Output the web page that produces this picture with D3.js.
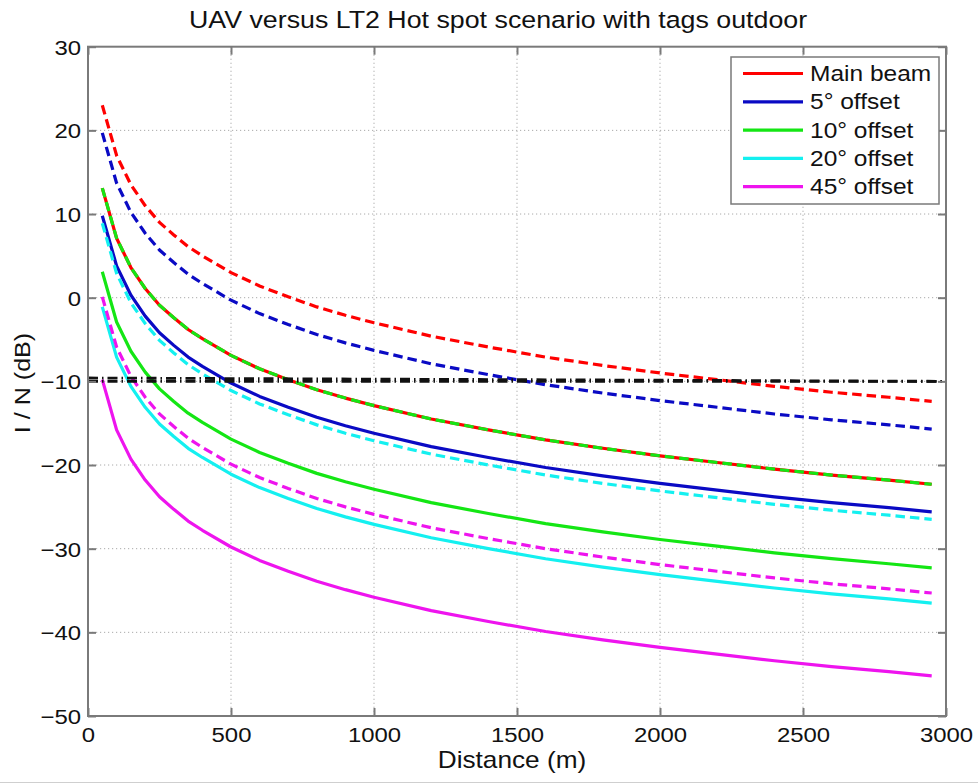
<!DOCTYPE html>
<html>
<head>
<meta charset="utf-8">
<script src="https://cdn.jsdelivr.net/npm/d3@7"></script>
<style>
  html, body { margin: 0; padding: 0; background: #fff; }
  svg { display: block; font-family: "Liberation Sans", Arial, sans-serif; }
</style>
</head>
<body>
<svg id="chart" width="978" height="783"></svg>
<script>
// Distance samples (m)
const distances = [50, 100, 150, 200, 250, 300, 350, 400, 500, 600, 700, 800, 900, 1000,
                   1200, 1400, 1600, 1800, 2000, 2200, 2400, 2600, 2800, 2950];

// I/N (dB), solid curves
const mainBeamSolid = [13.1, 7.1, 3.6, 1.1, -0.9, -2.4, -3.8, -4.9, -6.9, -8.5, -9.8, -11.0, -12.0, -12.9,
                       -14.5, -15.8, -17.0, -18.0, -18.9, -19.7, -20.5, -21.2, -21.8, -22.3];
const offset5Solid = [9.8, 3.8, 0.3, -2.2, -4.2, -5.7, -7.1, -8.2, -10.2, -11.8, -13.1, -14.3, -15.3, -16.2,
                      -17.8, -19.1, -20.3, -21.3, -22.2, -23.0, -23.8, -24.5, -25.1, -25.6];
const offset10Solid = [3.1, -2.9, -6.4, -8.9, -10.9, -12.4, -13.8, -14.9, -16.9, -18.5, -19.8, -21.0, -22.0, -22.9,
                       -24.5, -25.8, -27.0, -28.0, -28.9, -29.7, -30.5, -31.2, -31.8, -32.3];
const offset20Solid = [-1.1, -7.1, -10.6, -13.1, -15.1, -16.6, -18.0, -19.1, -21.1, -22.7, -24.0, -25.2, -26.2, -27.1,
                       -28.7, -30.0, -31.2, -32.2, -33.1, -33.9, -34.7, -35.4, -36.0, -36.5];
const offset45Solid = [-9.8, -15.8, -19.3, -21.8, -23.8, -25.3, -26.7, -27.8, -29.8, -31.4, -32.7, -33.9, -34.9, -35.8,
                       -37.4, -38.7, -39.9, -40.9, -41.8, -42.6, -43.4, -44.1, -44.7, -45.2];

// I/N (dB), dashed curves
const mainBeamDashed = [23.0, 17.0, 13.5, 11.0, 9.0, 7.5, 6.1, 5.0, 3.0, 1.4, 0.1, -1.1, -2.1, -3.0,
                        -4.6, -5.9, -7.1, -8.1, -9.0, -9.8, -10.6, -11.3, -11.9, -12.4];
const offset5Dashed = [19.7, 13.7, 10.2, 7.7, 5.7, 4.2, 2.8, 1.7, -0.3, -1.9, -3.2, -4.4, -5.4, -6.3,
                       -7.9, -9.2, -10.4, -11.4, -12.3, -13.1, -13.9, -14.6, -15.2, -15.7];
const offset10Dashed = [13.1, 7.1, 3.6, 1.1, -0.9, -2.4, -3.8, -4.9, -6.9, -8.5, -9.8, -11.0, -12.0, -12.9,
                        -14.5, -15.8, -17.0, -18.0, -18.9, -19.7, -20.5, -21.2, -21.8, -22.3];
const offset20Dashed = [8.9, 2.9, -0.6, -3.1, -5.1, -6.6, -8.0, -9.1, -11.1, -12.7, -14.0, -15.2, -16.2, -17.1,
                        -18.7, -20.0, -21.2, -22.2, -23.1, -23.9, -24.7, -25.4, -26.0, -26.5];
const offset45Dashed = [0.1, -5.9, -9.4, -11.9, -13.9, -15.4, -16.8, -17.9, -19.9, -21.5, -22.8, -24.0, -25.0, -25.9,
                        -27.5, -28.8, -30.0, -31.0, -31.9, -32.7, -33.5, -34.2, -34.8, -35.3];

// Protection threshold lines (dB) spanning the full distance range
const thresholdDistances = [0, 3000];
const thresholdUpper = [-9.6, -10.0];
const thresholdLower = [-10.0, -10.0];

const seriesNames = ["Main beam", "5° offset", "10° offset", "20° offset", "45° offset"];
const seriesColors = ["#ff0000", "#0a0ac4", "#14e614", "#14f0f0", "#ee14ee"];
const solidSeries = [mainBeamSolid, offset5Solid, offset10Solid, offset20Solid, offset45Solid];
const dashedSeries = [mainBeamDashed, offset5Dashed, offset10Dashed, offset20Dashed, offset45Dashed];

const xTicks = [0, 500, 1000, 1500, 2000, 2500, 3000];
const yTicks = [-50, -40, -30, -20, -10, 0, 10, 20, 30];

const svg = d3.select("#chart");
const W = 978, H = 783;
const m = { left: 88, right: W - 946, top: 46.7, bottom: H - 716 };
const iw = W - m.left - m.right, ih = H - m.top - m.bottom;

const x = d3.scaleLinear().domain([0, 3000]).range([m.left, m.left + iw]);
const y = d3.scaleLinear().domain([-50, 30]).range([m.top + ih, m.top]);

// wide-set text: glyphs are stretched horizontally around their anchor point
const SX = 1.14;
function wideText(parent, px, py, str, size, anchor, rotate) {
  const g = parent.append("g")
    .attr("transform", `translate(${px},${py})` + (rotate ? ` rotate(${rotate})` : "") + ` scale(${SX},1)`);
  return g.append("text").attr("text-anchor", anchor || "start")
    .attr("font-size", size).attr("fill", "#111").text(str);
}

// grid
const grid = svg.append("g");
grid.selectAll("line.gx").data(xTicks.slice(1, -1)).join("line")
  .attr("x1", d => x(d)).attr("x2", d => x(d))
  .attr("y1", m.top).attr("y2", m.top + ih)
  .attr("stroke", "#aaaaaa").attr("stroke-width", 1).attr("stroke-dasharray", "1.2,2.8");
grid.selectAll("line.gy").data(yTicks.slice(1, -1)).join("line")
  .attr("x1", m.left).attr("x2", m.left + iw)
  .attr("y1", d => y(d)).attr("y2", d => y(d))
  .attr("stroke", "#aaaaaa").attr("stroke-width", 1).attr("stroke-dasharray", "1.2,2.8");

const line = d3.line().x(d => x(d[0])).y(d => y(d[1]));
const plot = svg.append("g");

// solid curves
solidSeries.forEach((vals, i) => {
  plot.append("path")
    .datum(distances.map((d, k) => [d, vals[k]]))
    .attr("d", line).attr("fill", "none")
    .attr("stroke", seriesColors[i]).attr("stroke-width", 3.2)
    .attr("stroke-linejoin", "round");
});
// dashed curves
dashedSeries.forEach((vals, i) => {
  plot.append("path")
    .datum(distances.map((d, k) => [d, vals[k]]))
    .attr("d", line).attr("fill", "none")
    .attr("stroke", seriesColors[i]).attr("stroke-width", 3.2)
    .attr("stroke-dasharray", "9.5,5");
});
// threshold dash-dot lines
[thresholdUpper, thresholdLower].forEach(vals => {
  plot.append("path")
    .datum(thresholdDistances.map((d, k) => [d, vals[k]]))
    .attr("d", line).attr("fill", "none")
    .attr("stroke", "#111").attr("stroke-width", 2.8)
    .attr("stroke-dasharray", "10,4,1.5,4");
});

// axes box + inward ticks on all sides
const axisColor = "#7a7a7a";
svg.append("rect").attr("x", m.left).attr("y", m.top).attr("width", iw).attr("height", ih)
  .attr("fill", "none").attr("stroke", axisColor).attr("stroke-width", 2);

const axB = d3.axisBottom(x).tickValues(xTicks).tickSize(-8).tickSizeOuter(0).tickFormat(d3.format("d"));
const axT = d3.axisTop(x).tickValues(xTicks).tickSize(-8).tickSizeOuter(0).tickFormat("");
const axL = d3.axisLeft(y).tickValues(yTicks).tickSize(-8).tickSizeOuter(0).tickFormat(d3.format("d"));
const axR = d3.axisRight(y).tickValues(yTicks).tickSize(-8).tickSizeOuter(0).tickFormat("");

function styleAxis(g) {
  g.select(".domain").remove();
  g.selectAll(".tick line").attr("stroke", axisColor).attr("stroke-width", 2);
  g.selectAll(".tick text").attr("fill", "#111").attr("font-size", 21)
    .attr("font-family", "Liberation Sans, Arial, sans-serif");
}
svg.append("g").attr("transform", `translate(0,${m.top + ih})`).call(axB).call(styleAxis)
  .selectAll(".tick text").attr("x", 0).attr("y", 25.7).attr("dy", 0)
  .attr("transform", `scale(${SX},1)`);
svg.append("g").attr("transform", `translate(0,${m.top})`).call(axT).call(styleAxis);
svg.append("g").attr("transform", `translate(${m.left},0)`).call(axL).call(styleAxis)
  .selectAll(".tick text").attr("x", -7 / SX).attr("dy", "0.36em")
  .attr("transform", `scale(${SX},1)`);
svg.append("g").attr("transform", `translate(${m.left + iw},0)`).call(axR).call(styleAxis);

// title and axis labels
wideText(svg, 498, 28, "UAV versus LT2 Hot spot scenario with tags outdoor", 23.5, "middle");
wideText(svg, 512, 768, "Distance (m)", 23, "middle");
wideText(svg, 30, 383, "I / N (dB)", 22, "middle", -90);

// legend
const lg = svg.append("g");
lg.append("rect").attr("x", 731).attr("y", 57).attr("width", 208).attr("height", 147)
  .attr("fill", "#fff").attr("stroke", axisColor).attr("stroke-width", 1.5);
seriesNames.forEach((name, i) => {
  const yy = 73.5 + i * 28.3;
  lg.append("line").attr("x1", 743).attr("x2", 803).attr("y1", yy).attr("y2", yy)
    .attr("stroke", seriesColors[i]).attr("stroke-width", 3.2);
  wideText(lg, 810, yy + 7.5, name, 21.5, "start");
});

// bottom frame edge
svg.append("line").attr("x1", 0).attr("x2", W).attr("y1", 782.5).attr("y2", 782.5)
  .attr("stroke", "#cfcfcf").attr("stroke-width", 1);
</script>
</body>
</html>
